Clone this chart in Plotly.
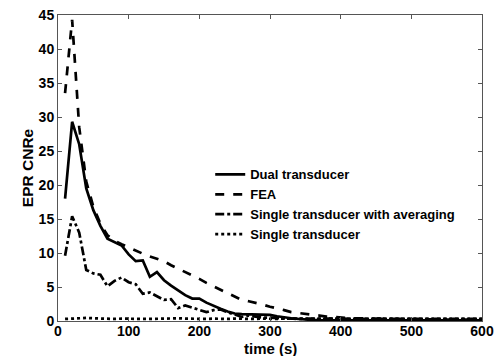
import plotly.graph_objects as go

time_s = [10, 20, 30, 40, 50, 60, 70, 80, 90, 100,
          110, 120, 130, 140, 150, 160, 170, 180, 190, 200,
          210, 220, 230, 240, 250, 260, 270, 280, 290, 300,
          310, 320, 330, 340, 350, 360, 370, 380, 390, 400,
          410, 420, 430, 440, 450, 460, 470, 480, 490, 500,
          510, 520, 530, 540, 550, 560, 570, 580, 590, 600]

dual = [18.0, 29.3, 26.0, 19.5, 16.3, 14.0, 12.1, 11.6, 11.1, 9.8,
        8.8, 8.9, 6.5, 7.2, 6.0, 5.2, 4.5, 3.8, 3.3, 3.3,
        2.7, 2.2, 1.8, 1.4, 1.1, 1.0, 1.0, 1.0, 1.0, 0.9,
        0.7, 0.5, 0.4, 0.3, 0.2, 0.15, 0.12, 0.1, 0.1, 0.1,
        0.1, 0.1, 0.1, 0.1, 0.1, 0.1, 0.1, 0.1, 0.1, 0.1,
        0.1, 0.1, 0.1, 0.1, 0.1, 0.1, 0.1, 0.1, 0.1, 0.1]

fea = [33.5, 44.3, 28.5, 20.5, 16.8, 14.3, 12.6, 11.8, 11.3, 10.8,
       10.3, 9.9, 9.5, 9.1, 8.8, 8.2, 7.7, 7.3, 6.8, 6.2,
       5.6, 5.1, 4.6, 4.0, 3.5, 3.1, 2.9, 2.7, 2.4, 2.1,
       1.9, 1.6, 1.3, 1.2, 1.0, 0.9, 0.8, 0.65, 0.55, 0.5,
       0.45, 0.4, 0.38, 0.35, 0.33, 0.3, 0.3, 0.28, 0.27, 0.25,
       0.25, 0.24, 0.23, 0.22, 0.22, 0.21, 0.2, 0.2, 0.2, 0.2]

single_avg = [9.6, 15.4, 13.0, 7.5, 7.0, 6.8, 5.1, 5.9, 6.4, 5.7,
              5.4, 4.0, 4.2, 3.6, 3.1, 3.2, 1.9, 2.3, 2.0, 1.6,
              1.3, 1.6, 1.7, 1.3, 0.9, 0.6, 0.8, 0.6, 0.5, 0.5,
              0.4, 0.4, 0.35, 0.35, 0.3, 0.3, 0.3, 0.3, 0.3, 0.3,
              0.3, 0.3, 0.3, 0.3, 0.3, 0.3, 0.3, 0.3, 0.3, 0.3,
              0.3, 0.3, 0.3, 0.3, 0.3, 0.3, 0.3, 0.3, 0.3, 0.3]

single = [0.3, 0.35, 0.45, 0.45, 0.4, 0.35, 0.3, 0.3, 0.35, 0.3,
          0.35, 0.3, 0.3, 0.35, 0.3, 0.35, 0.4, 0.35, 0.3, 0.35,
          0.3, 0.35, 0.3, 0.3, 0.35, 0.3, 0.35, 0.3, 0.35, 0.3,
          0.3, 0.35, 0.3, 0.35, 0.3, 0.3, 0.35, 0.3, 0.35, 0.3,
          0.35, 0.3, 0.3, 0.35, 0.3, 0.35, 0.3, 0.3, 0.35, 0.3,
          0.35, 0.3, 0.3, 0.35, 0.3, 0.35, 0.3, 0.3, 0.35, 0.3]

names = ["Dual transducer", "FEA", "Single transducer with averaging", "Single transducer"]
series = [dual, fea, single_avg, single]
dashes = ["solid", "dash", "dashdot", "dot"]

fig = go.Figure()
for name, ys, d in zip(names, series, dashes):
    fig.add_trace(go.Scatter(x=time_s, y=ys, mode="lines", name=name,
                             line=dict(color="black", width=2.7, dash=d)))

font_fam = "Liberation Sans, Arial, sans-serif"
fig.update_layout(
    width=500, height=356,
    margin=dict(l=58, r=18, t=15, b=35),
    paper_bgcolor="white", plot_bgcolor="white",
    font=dict(family=font_fam, color="black", size=12),
    showlegend=True,
    legend=dict(x=0.359, y=0.528, xanchor="left", yanchor="top",
                bgcolor="rgba(0,0,0,0)", borderwidth=0,
                font=dict(family=font_fam, size=13, weight="bold", color="black"),
                tracegroupgap=0),
    annotations=[dict(text="time (s)", xref="paper", yref="paper", x=0.5, y=0,
                      xanchor="center", yanchor="middle", yshift=-27, showarrow=False,
                      borderpad=0,
                      font=dict(family=font_fam, size=15, weight="bold", color="black"))],
)
fig.update_xaxes(range=[0, 600], tickvals=[0, 100, 200, 300, 400, 500, 600],
                 ticks="inside", ticklen=4, tickcolor="#555", showline=True,
                 linecolor="#555", linewidth=1, mirror="ticks", showgrid=False,
                 zeroline=False, automargin=False, ticklabelstandoff=-3,
                 tickfont=dict(family=font_fam, size=14, weight="bold"))
fig.update_yaxes(range=[0, 45], tickvals=[0, 5, 10, 15, 20, 25, 30, 35, 40, 45],
                 ticks="inside", ticklen=4, tickcolor="#555", showline=True,
                 linecolor="#555", linewidth=1, mirror="ticks", showgrid=False,
                 zeroline=False, automargin=False,
                 tickfont=dict(family=font_fam, size=14, weight="bold"),
                 title=dict(text="EPR CNRe", standoff=1,
                            font=dict(family=font_fam, size=15.5, weight="bold")))

fig.write_html("out.html")
